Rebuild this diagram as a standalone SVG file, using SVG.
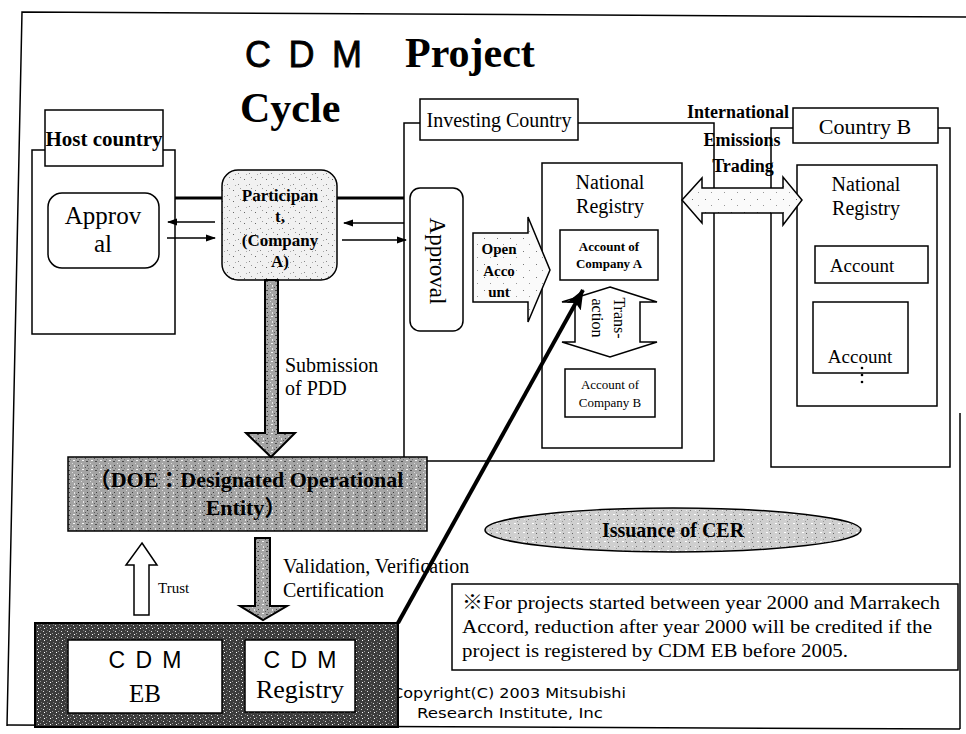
<svg xmlns="http://www.w3.org/2000/svg" width="966" height="734" viewBox="0 0 966 734">
<defs>
<style>
.ln{fill:none;stroke:#000;stroke-width:1.5}
.box{fill:#fff;stroke:#000;stroke-width:1.5}
.s{font-family:"Liberation Serif","Times New Roman","Noto Sans CJK JP",serif;fill:#000}
.a{font-family:"Liberation Sans",Arial,sans-serif;fill:#000}
.b{font-weight:bold}
.m{text-anchor:middle}
.thin{fill:none;stroke:#000;stroke-width:1.5}
</style>
<pattern id="pLight" width="11" height="11" patternUnits="userSpaceOnUse">
<rect width="11" height="11" fill="#f1f1f1"/>
<rect x="2" y="3" width="1" height="1" fill="#666"/>
<rect x="7" y="8" width="1" height="1" fill="#888"/>
<rect x="9" y="1" width="1" height="1" fill="#999"/>
<rect x="4" y="9" width="1" height="1" fill="#aaa"/>
</pattern>
<pattern id="pMid" width="9" height="9" patternUnits="userSpaceOnUse">
<rect width="9" height="9" fill="#a4a4a4"/>
<rect x="1" y="1" width="2" height="1" fill="#f4f4f4"/>
<rect x="5" y="2" width="2" height="1" fill="#4a4a4a"/>
<rect x="2" y="6" width="1" height="2" fill="#e6e6e6"/>
<rect x="6" y="6" width="1" height="1" fill="#3a3a3a"/>
<rect x="0" y="4" width="1" height="1" fill="#dcdcdc"/>
<rect x="7" y="0" width="1" height="1" fill="#777"/>
<rect x="4" y="8" width="1" height="1" fill="#555"/>
</pattern>
<pattern id="pCer" width="9" height="9" patternUnits="userSpaceOnUse">
<rect width="9" height="9" fill="#cfcfcf"/>
<rect x="1" y="1" width="2" height="1" fill="#fff"/>
<rect x="5" y="2" width="1" height="1" fill="#666"/>
<rect x="2" y="6" width="1" height="1" fill="#f2f2f2"/>
<rect x="6" y="6" width="1" height="1" fill="#777"/>
<rect x="4" y="8" width="1" height="1" fill="#999"/>
</pattern>
<pattern id="pDark" width="6" height="6" patternUnits="userSpaceOnUse">
<rect width="6" height="6" fill="#3c3c3c"/>
<rect x="1" y="1" width="1" height="1" fill="#ddd"/>
<rect x="4" y="3" width="1" height="1" fill="#999"/>
<rect x="2" y="4" width="1" height="1" fill="#fff"/>
<rect x="5" y="0" width="1" height="1" fill="#777"/>
</pattern>
<pattern id="pPale" width="13" height="13" patternUnits="userSpaceOnUse">
<rect width="13" height="13" fill="#fafafa"/>
<rect x="3" y="4" width="1" height="1" fill="#777"/>
<rect x="9" y="10" width="1" height="1" fill="#999"/>
</pattern>
<marker id="ah" markerWidth="10" markerHeight="8" refX="9" refY="4" orient="auto" markerUnits="userSpaceOnUse">
<path d="M0,0.5 L10,4 L0,7.5z" fill="#000"/>
</marker>
<marker id="ahBig" markerWidth="20" markerHeight="16" refX="19" refY="8" orient="auto" markerUnits="userSpaceOnUse">
<path d="M0,0 L20,8 L0,16 L4,8z" fill="#000"/>
</marker>
</defs>

<rect width="966" height="734" fill="#fff"/>

<g id="frame">
<path class="ln" d="M7,726 L22,12 L966,17" stroke-width="2"/>
<path class="ln" d="M7,725 L960,729 M960,413 L960,729" stroke-width="2"/>
</g>

<g id="title">
<text class="a" x="245" y="67" font-size="36" textLength="117" lengthAdjust="spacing" stroke="#000" stroke-width="0.8">C D M</text>
<text class="s b" x="405" y="67" font-size="42">Project</text>
<text class="s b" x="240" y="122" font-size="42">Cycle</text>
</g>

<g id="host-country">
<path class="ln" d="M45,150 L32,150 L32,334 L175,334 L175,150 L163,150"/>
<rect class="box" x="45" y="110" width="118" height="56"/>
<text class="s b m" x="104" y="146" font-size="21">Host country</text>
</g>

<g id="host-approval">
<rect class="box" x="48" y="193" width="111" height="75" rx="14"/>
<text class="s m" x="103" y="224" font-size="25">Approv</text>
<text class="s m" x="103" y="252" font-size="25">al</text>
</g>

<g id="investing-country">
<path class="ln" d="M420,123 L404,123 L404,461 L714,461 L714,123 L578,123"/>
<rect class="box" x="420" y="99" width="158" height="41"/>
<text class="s m" x="499" y="127" font-size="20">Investing Country</text>
</g>

<g id="investing-approval">
<rect class="box" x="410" y="188" width="53" height="143" rx="10"/>
<text class="s m" transform="translate(437,261) rotate(90)" dominant-baseline="central" font-size="23">Approval</text>
</g>

<g id="national-registry-investing">
<rect class="box" x="542" y="163" width="140" height="285"/>
<text class="s m" x="610" y="189" font-size="20">National</text>
<text class="s m" x="610" y="213" font-size="20">Registry</text>
</g>

<g id="account-company-a">
<rect class="box" x="560" y="230" width="98" height="50"/>
<text class="s b m" x="609" y="251" font-size="13">Account of</text>
<text class="s b m" x="609" y="268" font-size="13">Company A</text>
</g>

<g id="account-company-b">
<rect class="box" x="565" y="369" width="90" height="48"/>
<text class="s m" x="610" y="389" font-size="13">Account of</text>
<text class="s m" x="610" y="407" font-size="13">Company B</text>
</g>

<g id="country-b">
<path class="ln" d="M793,128 L771,128 L771,467 L950,467 L950,128 L938,128"/>
<rect class="box" x="793" y="108" width="145" height="35"/>
<text class="s m" x="865" y="134" font-size="22">Country B</text>
</g>

<g id="national-registry-b">
<rect class="box" x="797" y="165" width="140" height="241"/>
<text class="s m" x="866" y="191" font-size="20">National</text>
<text class="s m" x="866" y="215" font-size="20">Registry</text>
</g>

<g id="account-b1">
<rect class="box" x="815" y="246" width="113" height="37"/>
<text class="s m" x="862" y="272" font-size="19">Account</text>
</g>

<g id="account-b2">
<rect class="box" x="813" y="302" width="95" height="71"/>
<text class="s m" x="860" y="363" font-size="19">Account</text>
<circle cx="862" cy="368" r="1.3" fill="#000"/>
<circle cx="862" cy="375" r="1.3" fill="#000"/>
<circle cx="862" cy="382" r="1.3" fill="#000"/>
</g>

<g id="participant">
<rect x="222" y="170" width="115" height="110" rx="16" fill="url(#pLight)" stroke="#000" stroke-width="1.5"/>
<text class="s b m" x="280" y="201" font-size="17">Participan</text>
<text class="s b m" x="280" y="222" font-size="17">t,</text>
<text class="s b m" x="280" y="246" font-size="17">(Company</text>
<text class="s b m" x="280" y="267" font-size="17">A)</text>
</g>

<g id="doe">
<rect x="68" y="457" width="359" height="74" fill="url(#pMid)" stroke="#000" stroke-width="1.5"/>
<text class="s b m" x="246" y="487" font-size="22">（DOE：Designated Operational</text>
<text class="s b m" x="246" y="515" font-size="22">Entity）</text>
</g>

<g id="issuance-of-cer">
<ellipse cx="673" cy="530" rx="188" ry="22" fill="url(#pCer)" stroke="#000" stroke-width="1.5"/>
<text class="s b m" x="673" y="537" font-size="20">Issuance of CER</text>
</g>

<g id="note">
<rect class="box" x="452" y="584" width="506" height="86"/>
<text class="s" x="462" y="609" font-size="19" textLength="478" lengthAdjust="spacingAndGlyphs">※For projects started between year 2000 and Marrakech</text>
<text class="s" x="462" y="633" font-size="19" textLength="470" lengthAdjust="spacingAndGlyphs">Accord, reduction after year 2000 will be credited if the</text>
<text class="s" x="462" y="657" font-size="19" textLength="386" lengthAdjust="spacingAndGlyphs">project is registered by CDM EB before 2005.</text>
</g>

<g id="copyright">
<text x="392" y="698" font-family="'DejaVu Sans',Verdana,sans-serif" font-size="14" textLength="234" lengthAdjust="spacingAndGlyphs">Copyright(C) 2003 Mitsubishi</text>
<text x="417" y="718" font-family="'DejaVu Sans',Verdana,sans-serif" font-size="14" textLength="186" lengthAdjust="spacingAndGlyphs">Research Institute, Inc</text>
</g>

<g id="cdm-bottom">
<rect x="35" y="623" width="363" height="104" fill="url(#pDark)" stroke="#000" stroke-width="2"/>
</g>

<g id="cdm-eb">
<rect class="box" x="68" y="640" width="154" height="73"/>
<text class="a m" x="145" y="668" font-size="23" textLength="73" lengthAdjust="spacing">C D M</text>
<text class="s m" x="145" y="702" font-size="25">EB</text>
</g>

<g id="cdm-registry">
<rect class="box" x="245" y="640" width="110" height="72"/>
<text class="a m" x="300" y="668" font-size="23" textLength="73" lengthAdjust="spacing">C D M</text>
<text class="s m" x="300" y="698" font-size="26">Registry</text>
</g>

<g id="connectors">
<path d="M175,198 L222,198 M337,198 L404,198" stroke="#000" stroke-width="3" fill="none"/>
<line class="thin" x1="215" y1="222" x2="168" y2="222" marker-end="url(#ah)"/>
<line class="thin" x1="167" y1="238" x2="215" y2="238" marker-end="url(#ah)"/>
<line class="thin" x1="404" y1="223" x2="344" y2="223" marker-end="url(#ah)"/>
<line class="thin" x1="342" y1="240" x2="406" y2="240" marker-end="url(#ah)"/>
<path d="M265,280 L278,280 L278,433 L295,433 L271,457 L246,433 L265,433 Z" fill="url(#pMid)" stroke="#000" stroke-width="2"/>
<text class="s" x="285" y="372" font-size="20">Submission</text>
<text class="s" x="285" y="395" font-size="20">of PDD</text>
<path d="M255,538 L270,538 L270,606 L287,606 L263,620 L240,606 L255,606 Z" fill="url(#pMid)" stroke="#000" stroke-width="2"/>
<text class="s" x="283" y="573" font-size="20">Validation, Verification</text>
<text class="s" x="283" y="597" font-size="20">Certification</text>
<path d="M142,543 L157,565 L149,565 L149,615 L134,615 L134,565 L126,565 Z" fill="#fff" stroke="#000" stroke-width="1.5"/>
<text class="s" x="158" y="593" font-size="15">Trust</text>
<path d="M473,233 L528,233 L528,217 L550,270 L528,322 L528,302 L473,302 Z" fill="url(#pPale)" stroke="#000" stroke-width="1.5"/>
<text class="s b m" x="499" y="254" font-size="15">Open</text>
<text class="s b m" x="499" y="276" font-size="15">Acco</text>
<text class="s b m" x="499" y="297" font-size="15">unt</text>
<path d="M610,287 L657,302 L640,302 L640,342 L657,342 L610,357 L562,342 L575,342 L575,302 L562,302 Z" fill="#fff" stroke="#000" stroke-width="1.5"/>
<text class="s m" transform="translate(607,318) rotate(90)" font-size="16"><tspan x="0" y="-7">Trans-</tspan><tspan x="0" y="15">action</tspan></text>
<path d="M682,200 L702,178 L702,188 L783,188 L783,177 L802,200 L783,225 L783,213 L702,213 L702,223 Z" fill="url(#pPale)" stroke="#000" stroke-width="1.5"/>
<text class="s b m" x="738" y="118" font-size="18">International</text>
<text class="s b m" x="742" y="146" font-size="18">Emissions</text>
<text class="s b m" x="743" y="172" font-size="18">Trading</text>
<line x1="398" y1="623" x2="583" y2="290" stroke="#000" stroke-width="4" marker-end="url(#ahBig)"/>
</g>
</svg>
